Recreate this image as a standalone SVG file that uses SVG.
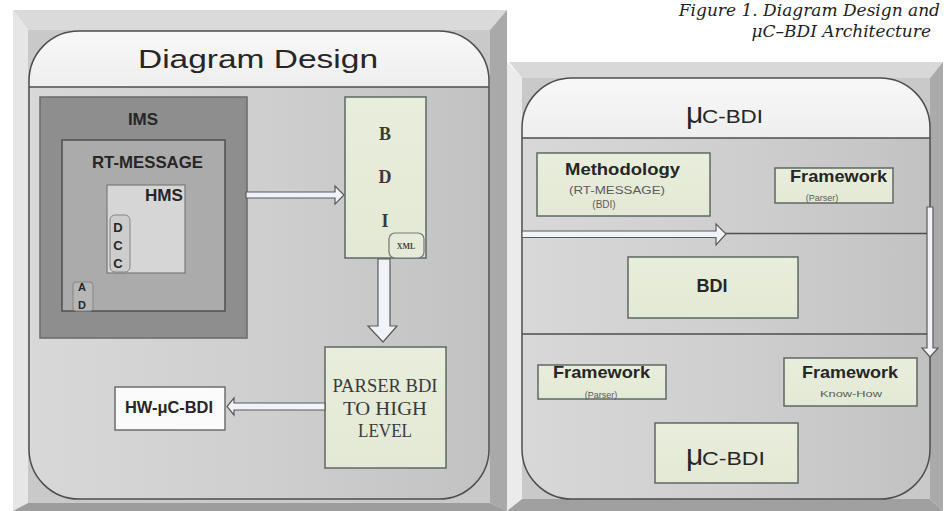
<svg xmlns="http://www.w3.org/2000/svg" width="950" height="511" viewBox="0 0 950 511">
  <defs>
    <linearGradient id="bodyGrad" x1="0" y1="0" x2="1" y2="0">
      <stop offset="0" stop-color="#d8d8d8"/>
      <stop offset="0.55" stop-color="#cecece"/>
      <stop offset="1" stop-color="#c2c2c2"/>
    </linearGradient>
    <linearGradient id="bandGrad" x1="0" y1="0" x2="0" y2="1">
      <stop offset="0" stop-color="#f8f8f8"/>
      <stop offset="1" stop-color="#eeeeee"/>
    </linearGradient>
    <linearGradient id="creamGrad" x1="0" y1="0" x2="0" y2="1">
      <stop offset="0" stop-color="#e9eedc"/>
      <stop offset="1" stop-color="#e4e9d6"/>
    </linearGradient>
    <clipPath id="clipLeft"><rect x="29" y="31" width="460" height="468" rx="50"/></clipPath>
    <clipPath id="clipRight"><rect x="522" y="78" width="408" height="421" rx="50"/></clipPath>
  </defs>
  <style>
    .b { font-weight: bold; }
    .ink { fill: #262626; }
    .soft { fill: #5a5a5a; }
    .cream { fill: url(#creamGrad); stroke: #5d6864; stroke-width: 1.5; }
    .edge { fill: none; stroke: #4e4e4e; stroke-width: 1.5; }
    .rule { stroke: #4e4e4e; stroke-width: 1.5; }
    .hollow { fill: #f1f3f8; stroke: #5a5a5a; stroke-width: 1.2; stroke-linejoin: miter; }
  </style>

  <rect width="950" height="511" fill="#ffffff"/>

  <!-- caption -->
  <g id="caption" font-family="'DejaVu Serif', 'Liberation Serif', serif" font-style="italic" font-size="17" fill="#1e1e1e" text-anchor="end">
    <text x="940" y="16">Figure 1. Diagram Design and</text>
    <text x="931" y="37">μC–BDI Architecture</text>
  </g>

  <!-- left panel: bevelled frame and rounded board -->
  <g id="panel-diagram-design" font-family="'Liberation Sans', Arial, Helvetica, sans-serif">
    <polygon points="13,10 507,10 490,30 28,30" fill="#dadada"/>
    <polygon points="13,10 28,30 28,503 13,511" fill="#e6e6e6"/>
    <polygon points="507,10 507,511 490,503 490,30" fill="#a9a9a9"/>
    <polygon points="13,511 28,503 490,503 507,511" fill="#9d9d9d"/>
    <rect x="28" y="30" width="462" height="473" fill="#c9c9c9"/>
    <rect x="29" y="31" width="460" height="468" rx="50" fill="url(#bodyGrad)"/>
    <rect x="29" y="31" width="460" height="56" fill="url(#bandGrad)" clip-path="url(#clipLeft)"/>
    <line x1="29" y1="87" x2="489" y2="87" class="rule"/>
    <rect x="29" y="31" width="460" height="468" rx="50" class="edge"/>
    <text x="138" y="68" class="ink" font-size="26" textLength="240" lengthAdjust="spacingAndGlyphs">Diagram Design</text>
  </g>

  <!-- right panel: bevelled frame and rounded board -->
  <g id="panel-uc-bdi" font-family="'Liberation Sans', Arial, Helvetica, sans-serif">
    <polygon points="509,62 943,62 930,78 522,78" fill="#d8d8d8"/>
    <polygon points="507,62 522,78 522,499 507,511" fill="#ebebeb"/>
    <polygon points="943,62 943,511 930,499 930,78" fill="#aaaaaa"/>
    <polygon points="507,511 522,499 930,499 943,511" fill="#a0a0a0"/>
    <rect x="522" y="78" width="408" height="421" fill="#c9c9c9"/>
    <rect x="522" y="78" width="408" height="421" rx="50" fill="url(#bodyGrad)"/>
    <rect x="522" y="78" width="408" height="60" fill="url(#bandGrad)" clip-path="url(#clipRight)"/>
    <line x1="522" y1="138" x2="930" y2="138" class="rule"/>
    <line x1="522" y1="233.5" x2="930" y2="233.5" class="rule"/>
    <line x1="522" y1="334" x2="930" y2="334" class="rule"/>
    <rect x="522" y="78" width="408" height="421" rx="50" class="edge"/>
    <text y="123" class="ink"><tspan x="686" font-size="30">μ</tspan><tspan x="702" font-size="19" textLength="61" lengthAdjust="spacingAndGlyphs">C-BDI</tspan></text>
  </g>

  <!-- nodes of the left board -->
  <g font-family="'Liberation Sans', Arial, Helvetica, sans-serif">
    <g id="ims">
      <rect x="40" y="97" width="207" height="241" fill="#8e8e8e" stroke="#6a6a6a" stroke-width="1.5"/>
      <text x="143" y="125" class="b ink" font-size="17" text-anchor="middle">IMS</text>
    </g>
    <g id="rt-message">
      <rect x="62" y="140" width="163" height="171" fill="#ababab" stroke="#4f4f4f" stroke-width="1.5"/>
      <text x="92" y="168" class="b ink" font-size="17" textLength="111" lengthAdjust="spacingAndGlyphs">RT-MESSAGE</text>
    </g>
    <g id="hms">
      <rect x="107" y="185" width="78" height="88" fill="#d6d6d6" stroke="#7a7a7a" stroke-width="1.2"/>
      <text x="145" y="201" class="b ink" font-size="16" textLength="38" lengthAdjust="spacingAndGlyphs">HMS</text>
    </g>
    <g id="dcc">
      <rect x="110" y="215" width="20" height="57" rx="5" fill="#cdcdcd" stroke="#858585" stroke-width="1"/>
      <g class="b ink" font-size="13" text-anchor="middle">
        <text x="118" y="232">D</text>
        <text x="118" y="250">C</text>
        <text x="118" y="268">C</text>
      </g>
    </g>
    <g id="ad">
      <rect x="73" y="282" width="20" height="29" rx="3" fill="#b6b6b6" stroke="#858585" stroke-width="1"/>
      <g class="b ink" font-size="11" text-anchor="middle">
        <text x="82" y="291">A</text>
        <text x="82" y="309">D</text>
      </g>
    </g>
    <g id="hw-uc-bdi">
      <rect x="115" y="387" width="110" height="43" fill="#fbfbfb" stroke="#6e6e6e" stroke-width="1.5"/>
      <text x="169" y="413" class="b ink" font-size="16" text-anchor="middle" textLength="88" lengthAdjust="spacingAndGlyphs">HW-μC-BDI</text>
    </g>
  </g>
  <g font-family="'Liberation Serif', 'Times New Roman', serif">
    <g id="bdi-stack">
      <rect x="345" y="97" width="81" height="161" class="cream"/>
      <g class="b" font-size="18" fill="#3a3a3a" text-anchor="middle">
        <text x="385" y="140">B</text>
        <text x="385" y="183">D</text>
        <text x="385" y="227">I</text>
      </g>
      <g id="xml">
        <rect x="389" y="233" width="35" height="25" rx="6" fill="#e6ebd9" stroke="#707a74" stroke-width="1.2"/>
        <text x="406" y="249" class="b" font-size="8" fill="#444" text-anchor="middle">XML</text>
      </g>
    </g>
    <g id="parser-bdi">
      <rect x="325" y="347" width="121" height="121" class="cream"/>
      <g font-size="18" fill="#3a3a3a" text-anchor="middle">
        <text x="385" y="392" textLength="105" lengthAdjust="spacingAndGlyphs">PARSER BDI</text>
        <text x="385" y="415" textLength="84" lengthAdjust="spacingAndGlyphs">TO HIGH</text>
        <text x="385" y="437" textLength="54" lengthAdjust="spacingAndGlyphs">LEVEL</text>
      </g>
    </g>
  </g>

  <!-- nodes of the right board -->
  <g font-family="'Liberation Sans', Arial, Helvetica, sans-serif">
    <g id="methodology">
      <rect x="537" y="153" width="173" height="63" class="cream"/>
      <text x="565" y="175" class="b ink" font-size="17" textLength="115" lengthAdjust="spacingAndGlyphs">Methodology</text>
      <text x="617" y="194" class="soft" font-size="10" text-anchor="middle" textLength="96" lengthAdjust="spacingAndGlyphs">(RT-MESSAGE)</text>
      <text x="604" y="208" class="soft" font-size="10" text-anchor="middle">(BDI)</text>
    </g>
    <g id="framework-parser-top">
      <rect x="775" y="168" width="118" height="35" class="cream"/>
      <text x="790" y="182" class="b ink" font-size="17" textLength="97" lengthAdjust="spacingAndGlyphs">Framework</text>
      <text x="822" y="201" class="soft" font-size="9" text-anchor="middle">(Parser)</text>
    </g>
    <g id="bdi">
      <rect x="628" y="257" width="170" height="61" class="cream"/>
      <text x="712" y="292" class="b ink" font-size="18" text-anchor="middle">BDI</text>
    </g>
    <g id="framework-parser-bottom">
      <rect x="538" y="365" width="128" height="34" class="cream"/>
      <text x="553" y="378" class="b ink" font-size="17" textLength="97" lengthAdjust="spacingAndGlyphs">Framework</text>
      <text x="601" y="398" class="soft" font-size="9" text-anchor="middle">(Parser)</text>
    </g>
    <g id="framework-know-how">
      <rect x="784" y="358" width="133" height="48" class="cream"/>
      <text x="802" y="378" class="b ink" font-size="17" textLength="96" lengthAdjust="spacingAndGlyphs">Framework</text>
      <text x="851" y="397" class="soft" font-size="9" text-anchor="middle" textLength="62" lengthAdjust="spacingAndGlyphs">Know-How</text>
    </g>
    <g id="uc-bdi">
      <rect x="655" y="423" width="143" height="60" class="cream"/>
      <text y="465" class="ink"><tspan x="686" font-size="30">μ</tspan><tspan x="702" font-size="19" textLength="63" lengthAdjust="spacingAndGlyphs">C-BDI</tspan></text>
    </g>
  </g>

  <!-- connectors: hollow block arrows -->
  <g id="connectors">
    <path class="hollow" d="M246,192 H335 V186 L344,195 L335,204 V198 H246 Z"/>
    <path class="hollow" d="M378,259 H390 V326 H397 L383,342 L368,326 H378 Z"/>
    <path class="hollow" d="M325,403 H234 V398 L227,406.5 L234,415 V410 H325 Z"/>
    <path class="hollow" d="M522,231 H716 V224 L726,234 L716,245 V237.5 H522 Z"/>
    <path class="hollow" d="M927,207 H933 V348 H938 L930,357 L922,348 H927 Z"/>
  </g>
</svg>
